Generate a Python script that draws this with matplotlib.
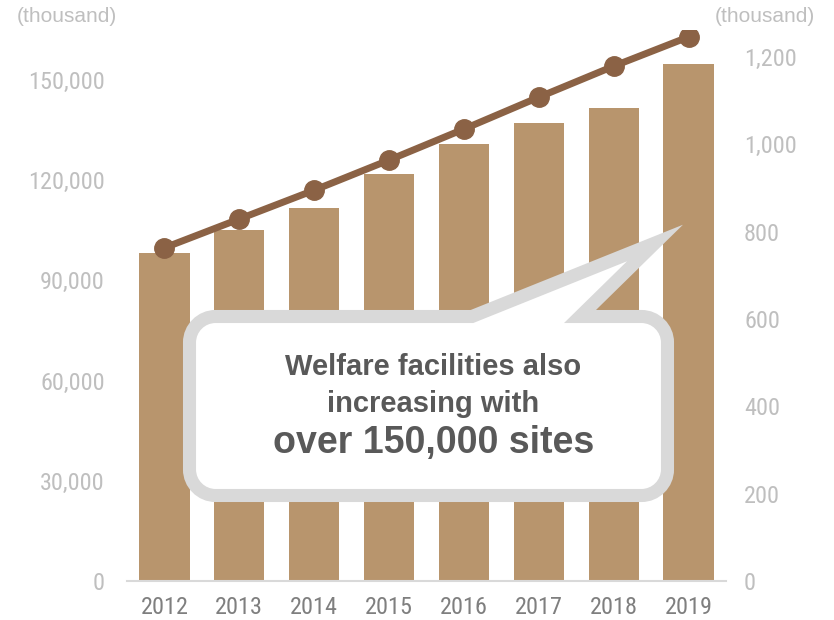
import matplotlib
matplotlib.use('Agg')
import matplotlib.pyplot as plt
import numpy as np
from matplotlib.path import Path
from matplotlib.patches import PathPatch
from matplotlib.ticker import FuncFormatter
from matplotlib import font_manager as fm

years = ['2012', '2013', '2014', '2015', '2016', '2017', '2018', '2019']
facilities = [98200, 105100, 111700, 121900, 130800, 137100, 141600, 154800]
users = [763, 829, 895, 964, 1035, 1108, 1179, 1246]
left_ticks = [0, 30000, 60000, 90000, 120000, 150000]
right_ticks = [0, 200, 400, 600, 800, 1000, 1200]

BAR = '#B8956D'
LINE = '#8B6245'
LIGHT = '#BFBFBF'

# pick a narrow face for the tick labels if one exists
names = {f.name for f in fm.fontManager.ttflist}
narrow = None
for cand in ['Liberation Sans Narrow', 'Arial Narrow', 'Roboto Condensed', 'Open Sans Condensed']:
    if cand in names:
        narrow = fm.FontProperties(family=cand, size=17.5)
        break
if narrow is None:
    narrow = fm.FontProperties(family='DejaVu Sans', stretch='condensed', size=17.5)

W, H = 834, 620
fig = plt.figure(figsize=(W / 100, H / 100), dpi=100)
# axes box in pixels: x 127..726, y 30..581
x0, x1, ytop, ybot = 127, 726, 30, 581
ax = fig.add_axes([x0 / W, 1 - ybot / H, (x1 - x0) / W, (ybot - ytop) / H])
ax2 = ax.twinx()

x = np.arange(len(years))
ax.bar(x, facilities, width=0.67, color=BAR, zorder=2)
ax.set_xlim(-0.5, len(years) - 0.5)
ax.set_ylim(0, 150000 * (ybot - ytop) / (581 - 80))
ax.set_yticks(left_ticks)
ax.yaxis.set_major_formatter(FuncFormatter(lambda v, p: f'{int(v):,}'))
ax.set_xticks(x)
ax.set_xticklabels(years)

ax2.plot(x, users, color=LINE, lw=5, marker='o', ms=14, zorder=3)
ax2.set_ylim(0, 1200 * (ybot - ytop) / (581 - 57))
ax2.set_yticks(right_ticks)
ax2.yaxis.set_major_formatter(FuncFormatter(lambda v, p: f'{int(v):,}'))

for a in (ax, ax2):
    for s in a.spines.values():
        s.set_visible(False)
    a.tick_params(length=0)
ax.spines['bottom'].set_visible(True)
ax.spines['bottom'].set_color('#D9D9D9')
ax.spines['bottom'].set_linewidth(1.5)
ax.tick_params(axis='y', pad=16, labelcolor=LIGHT)
ax.tick_params(axis='x', pad=11, labelcolor='#7F7F7F')
ax2.tick_params(axis='y', pad=13, labelcolor=LIGHT)
for lab in ax.get_yticklabels() + ax.get_xticklabels() + ax2.get_yticklabels():
    lab.set_fontproperties(narrow)

REG = ['Liberation Sans', 'DejaVu Sans']
fig.text(17 / W, 1 - 17 / H, '(thousand)', color=LIGHT, fontsize=15,
         family=REG, ha='left', va='center')
fig.text(815 / W, 1 - 17 / H, '(thousand)', color=LIGHT, fontsize=15,
         family=REG, ha='right', va='center')

# callout overlay in pixel coordinates
ov = fig.add_axes([0, 0, 1, 1])
ov.set_xlim(0, W)
ov.set_ylim(H, 0)
ov.axis('off')
l, r, t, b, rad = 189.5, 667.5, 316.5, 495.5, 26
k = 0.45
verts = [
    (l + rad, t), (472, t), (655, 243), (580, t), (r - rad, t),
    (r - rad * k, t), (r, t + rad * k), (r, t + rad),
    (r, b - rad),
    (r, b - rad * k), (r - rad * k, b), (r - rad, b),
    (l + rad, b),
    (l + rad * k, b), (l, b - rad * k), (l, b - rad),
    (l, t + rad),
    (l, t + rad * k), (l + rad * k, t), (l + rad, t),
    (l + rad, t),
]
codes = ([Path.MOVETO, Path.LINETO, Path.LINETO, Path.LINETO, Path.LINETO]
         + [Path.CURVE4] * 3 + [Path.LINETO]
         + [Path.CURVE4] * 3 + [Path.LINETO]
         + [Path.CURVE4] * 3 + [Path.LINETO]
         + [Path.CURVE4] * 3 + [Path.CLOSEPOLY])
ov.add_patch(PathPatch(Path(verts, codes), facecolor='white', edgecolor='#D9D9D9',
                       lw=9.4, joinstyle='miter'))
ov.text(433, 367, 'Welfare facilities also', ha='center', va='center',
        fontsize=21, fontweight='bold', color='#595959', family=REG)
ov.text(433, 404, 'increasing with', ha='center', va='center',
        fontsize=21, fontweight='bold', color='#595959', family=REG)
ov.text(434, 443, 'over 150,000 sites', ha='center', va='center',
        fontsize=27, fontweight='bold', color='#595959', family=REG)

fig.savefig('out.png', dpi=100)
